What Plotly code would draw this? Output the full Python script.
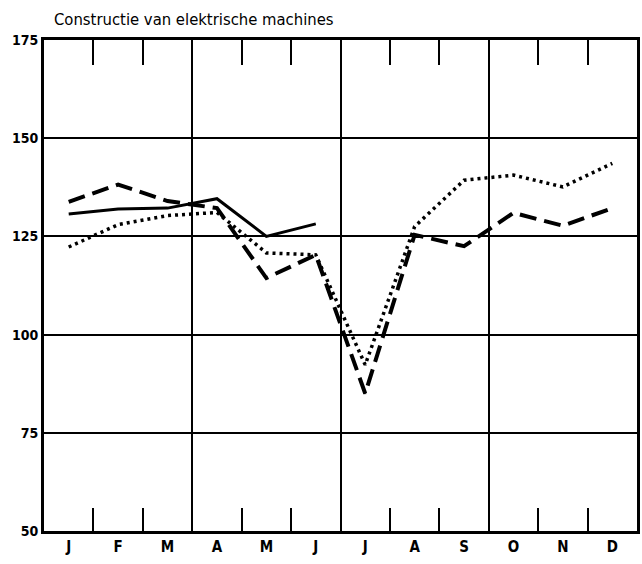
import plotly.graph_objects as go

months = ["J", "F", "M", "A", "M", "J", "J", "A", "S", "O", "N", "D"]
solid_vals = [130.7, 132.0, 132.2, 134.6, 125.0, 128.2]
dashed_vals = [133.8, 138.2, 134.0, 132.2, 114.4, 120.3, 85.0, 125.4, 122.5, 131.0, 127.7, 132.2]
dotted_vals = [122.3, 128.0, 130.3, 131.1, 120.8, 120.3, 92.3, 127.5, 139.3, 140.6, 137.6, 143.6]
y_ticks = [50, 75, 100, 125, 150, 175]
title = "Constructie van elektrische machines"

xc = [i + 0.5 for i in range(12)]
bounds = list(range(1, 12))
quarters = [3, 6, 9]

FONT = "DejaVu Sans Condensed, Liberation Sans Narrow, DejaVu Sans, sans-serif"

fig = go.Figure()
fig.add_trace(go.Scatter(x=xc[:len(solid_vals)], y=solid_vals, mode="lines",
                         line=dict(color="black", width=3), showlegend=False))
fig.add_trace(go.Scatter(x=xc, y=dashed_vals, mode="lines",
                         line=dict(color="black", width=4, dash="17px,8px"), showlegend=False))
fig.add_trace(go.Scatter(x=xc, y=dotted_vals, mode="lines",
                         line=dict(color="black", width=3.5, dash="3px,4px"), showlegend=False))

fig.add_trace(go.Scatter(x=[None], y=[None], xaxis="x2", showlegend=False, hoverinfo="skip"))
fig.add_trace(go.Scatter(x=[None], y=[None], xaxis="x3", showlegend=False, hoverinfo="skip"))

xtickfont = dict(family=FONT, size=15, color="black", weight="bold")
ytickfont = dict(family=FONT, size=14, color="black", weight="bold")

fig.update_layout(
    width=642, height=564,
    margin=dict(l=44, r=5, t=40, b=33),
    paper_bgcolor="white", plot_bgcolor="white",
    font=dict(family=FONT, color="black", size=14),
    xaxis=dict(range=[0, 12], tickvals=xc, ticktext=months, ticks="", showgrid=False,
               zeroline=False, showline=True, linecolor="black", linewidth=3, mirror=True,
               automargin=False, tickfont=xtickfont,
               minor=dict(tickvals=bounds, ticks="inside", ticklen=23, tickwidth=1.5,
                          tickcolor="black", showgrid=False)),
    xaxis2=dict(range=[0, 12], overlaying="x", tickvals=quarters, showticklabels=False,
                ticks="", showgrid=True, gridcolor="black", gridwidth=2, zeroline=False,
                showline=False, automargin=False),
    xaxis3=dict(range=[0, 12], overlaying="x", side="top", tickvals=bounds,
                showticklabels=False, ticks="inside", ticklen=25, tickwidth=1.5,
                tickcolor="black", showgrid=False, zeroline=False, showline=False,
                automargin=False),
    yaxis=dict(range=[50, 175], tickvals=y_ticks, ticks="", showgrid=True, gridcolor="black",
               gridwidth=2, zeroline=False, showline=True, linecolor="black", linewidth=3,
               mirror=True, automargin=False, ticklabelstandoff=0, tickfont=ytickfont),
    annotations=[dict(text=title, xref="paper", yref="paper", x=0.014, y=1.0, yshift=9,
                      xanchor="left", yanchor="bottom", showarrow=False,
                      font=dict(family=FONT, size=16.5, color="black"))],
)

fig.write_html("out.html", config={"displayModeBar": False},
               post_script="document.body.style.margin='0';document.body.style.overflow='hidden';")
